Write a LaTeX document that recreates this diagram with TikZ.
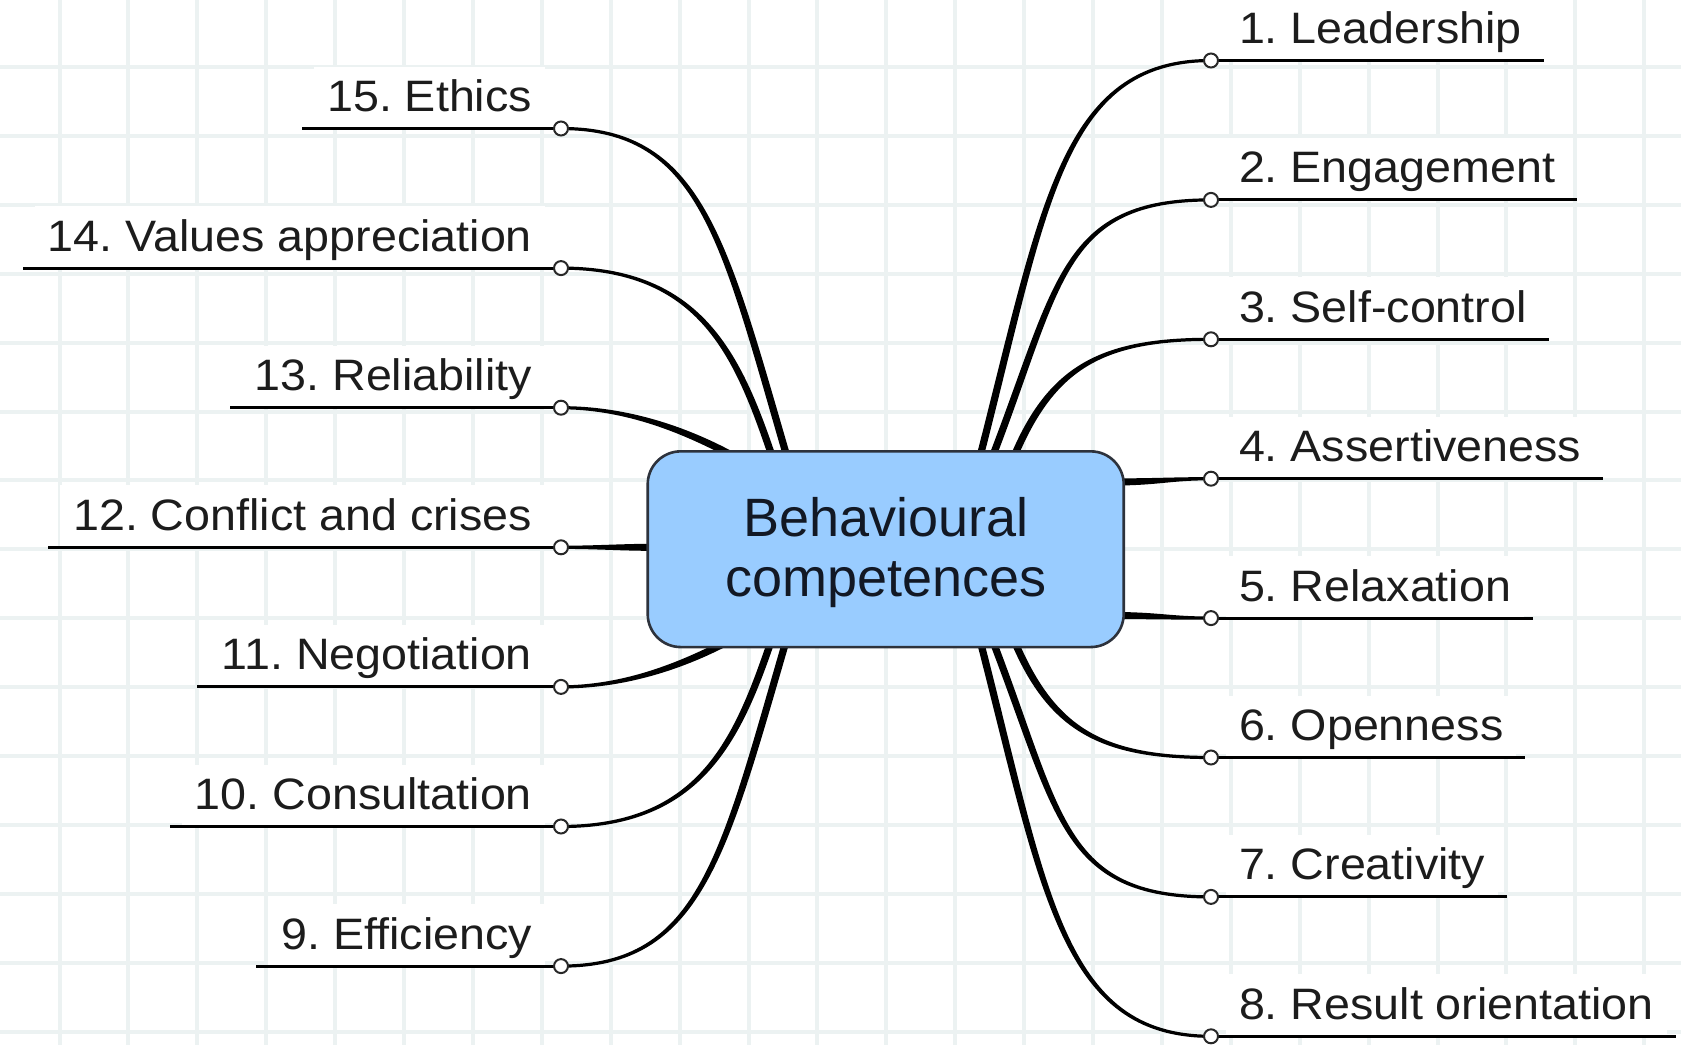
\documentclass[tikz,border=0pt]{standalone}
\usepackage{fontspec}
\newfontfamily\labelfont{Liberation Sans}[FakeStretch=1.06]
\newfontfamily\centerfont{Liberation Sans}
\usetikzlibrary{calc,backgrounds}
\definecolor{gridcol}{RGB}{236,242,242}
\definecolor{boxblue}{RGB}{153,204,255}
\definecolor{boxedge}{RGB}{45,50,60}
\definecolor{txt}{RGB}{28,28,28}
\definecolor{maintxt}{RGB}{18,24,36}
\definecolor{dotedge}{RGB}{40,40,40}
\tikzset{
  gridline/.style={gridcol, line width=2pt},
  lbl/.style={font=\labelfont\fontsize{22pt}{26pt}\selectfont\frenchspacing, text=txt, fill=white,
    inner xsep=6.5pt, inner ysep=0pt, text height=22.5pt, text depth=8.5pt, outer sep=0pt},
  uline/.style={black, line width=1.5pt},
  branch/.style={black, line width=1.6pt, line join=round},
  dot/.style={circle, draw=dotedge, fill=white, line width=1pt, minimum size=7pt,
    inner sep=0pt, outer sep=0pt},
  mainbox/.style={draw=boxedge, fill=boxblue, line width=1.3pt, rounded corners=16.5pt,
    minimum width=238pt, minimum height=97.85pt, inner sep=0pt, align=center,
    font=\centerfont\fontsize{27pt}{29.65pt}\selectfont, text=maintxt},
}
% tapered branch: start, control 1, control 2, end (named coordinate)
\newcommand\taper[4]{%
  \filldraw[branch] ($(#1)!1pt!90:(#2)$) .. controls ($(#2)!1pt!-90:(#1)$) and (#3) .. (#4)
     .. controls (#3) and ($(#2)!1pt!90:(#1)$) .. ($(#1)!1pt!-90:(#2)$) -- cycle;}
\begin{document}
\begin{tikzpicture}[x=0.5pt, y=-0.5pt]
\useasboundingbox (0,0) rectangle (1681,1045);
\begin{scope}[on background layer]
  \fill[white] (0,0) rectangle (1681,1045);
  \foreach \i in {0,...,23} \draw[gridline] ({59.5+68.9*\i},0) -- ({59.5+68.9*\i},1045);
  \foreach \j in {0,...,15} \draw[gridline] (0,{-1.9+68.9*\j}) -- (1681,{-1.9+68.9*\j});
\end{scope}

% circle positions
\coordinate (p1) at (1211,60.5);
\coordinate (p2) at (1211,199.9);
\coordinate (p3) at (1211,339.3);
\coordinate (p4) at (1211,478.7);
\coordinate (p5) at (1211,618.1);
\coordinate (p6) at (1211,757.5);
\coordinate (p7) at (1211,896.9);
\coordinate (p8) at (1211,1036.3);
\coordinate (p15) at (561,128.5);
\coordinate (p14) at (561,268.1);
\coordinate (p13) at (561,407.7);
\coordinate (p12) at (561,547.3);
\coordinate (p11) at (561,686.9);
\coordinate (p10) at (561,826.5);
\coordinate (p9) at (561,966.1);

% labels
\node[lbl, anchor=south west] (t1) at ([xshift=7.5pt]p1) {1. Leadership};
\node[lbl, anchor=south west] (t2) at ([xshift=7.5pt]p2) {2. Engagement};
\node[lbl, anchor=south west] (t3) at ([xshift=7.5pt]p3) {3. Self-control};
\node[lbl, anchor=south west] (t4) at ([xshift=7.5pt]p4) {4. Assertiveness};
\node[lbl, anchor=south west] (t5) at ([xshift=7.5pt]p5) {5. Relaxation};
\node[lbl, anchor=south west] (t6) at ([xshift=7.5pt]p6) {6. Openness};
\node[lbl, anchor=south west] (t7) at ([xshift=7.5pt]p7) {7. Creativity};
\node[lbl, anchor=south west] (t8) at ([xshift=7.5pt]p8) {8. Result orientation};
\node[lbl, anchor=south east] (t15) at ([xshift=-8pt]p15) {15. Ethics};
\node[lbl, anchor=south east] (t14) at ([xshift=-8pt]p14) {14. Values appreciation};
\node[lbl, anchor=south east] (t13) at ([xshift=-8pt]p13) {13. Reliability};
\node[lbl, anchor=south east] (t12) at ([xshift=-8pt]p12) {12. Conflict and crises};
\node[lbl, anchor=south east] (t11) at ([xshift=-8pt]p11) {11. Negotiation};
\node[lbl, anchor=south east] (t10) at ([xshift=-8pt]p10) {10. Consultation};
\node[lbl, anchor=south east] (t9) at ([xshift=-8pt]p9) {9. Efficiency};

% branches
\taper{979.2,459.7}{1044.2,207.5}{1061,60.5}{p1}
\taper{991.4,459.3}{1059.8,282.6}{1061,199.9}{p2}
\taper{1012.9,459.2}{1050.9,367.2}{1101,339.3}{p3}
\taper{1108,482}{1160,482}{1168,478.7}{p4}
\taper{1108,615.5}{1160,615.5}{1168,618.1}{p5}
\taper{1012.9,637.6}{1050.9,729.6}{1101,757.5}{p6}
\taper{991.4,637.5}{1059.8,814.2}{1061,896.9}{p7}
\taper{979.2,637.1}{1044.2,889.3}{1061,1036.3}{p8}
\taper{787.8,459.6}{723.4,238.8}{701,128.5}{p15}
\taper{773.2,459.5}{738,355}{701,268.1}{p14}
\taper{730.8,454.7}{678,426.5}{621,407.7}{p13}
\taper{660,547.3}{620,547.3}{600,547.3}{p12}
\taper{730.8,639.9}{678,668.1}{621,686.9}{p11}
\taper{773.2,635.1}{738,739.6}{701,826.5}{p10}
\taper{787.8,635}{723.4,855.8}{701,966.1}{p9}

% underlines
\foreach \k in {1,...,8} \draw[uline] (p\k) -- ([xshift=4.5pt]t\k.south east);
\foreach \k in {9,...,15} \draw[uline] (p\k) -- ([xshift=-6pt]t\k.south west);

% circles
\foreach \k in {1,...,15} \node[dot] (c\k) at (p\k) {};

% central topic
\node[mainbox] (main) at (885.7,549.2) {\rule{0pt}{22.9pt}Behavioural\\competences};
\end{tikzpicture}
\end{document}
